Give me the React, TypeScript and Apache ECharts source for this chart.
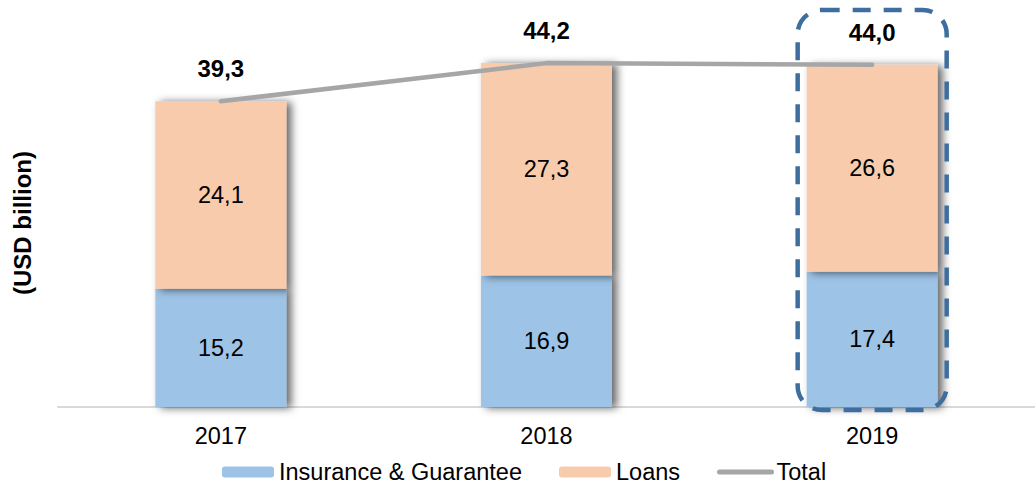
import React, { useEffect, useRef } from "react";
import * as echarts from "echarts";

const categories = ["2017", "2018", "2019"];
const insurance = [15.2, 16.9, 17.4];
const loans = [24.1, 27.3, 26.6];
const totals = [39.3, 44.2, 44.0];
const highlightCategory = "2019";

const fmt = (v: number) => v.toFixed(1).replace(".", ",");
const FONT = "'Liberation Sans', Arial, sans-serif";

export default function App() {
  const ref = useRef<HTMLDivElement>(null);
  useEffect(() => {
    document.body.style.margin = "0";
    if (!ref.current) return;
    const chart = echarts.init(ref.current, undefined, { renderer: "svg" });
    const shadow = {
      shadowColor: "rgba(0,0,0,0.6)",
      shadowBlur: 8,
      shadowOffsetX: 5,
      shadowOffsetY: 1,
    };
    const barLabel = {
      show: true,
      position: "inside",
      color: "#000",
      fontSize: 23.5,
      fontFamily: FONT,
      formatter: (p: any) => fmt(p.value),
    };
    chart.setOption({
      animation: false,
      textStyle: { fontFamily: FONT },
      grid: { left: 58, top: 18, width: 987, height: 389 },
      xAxis: {
        type: "category",
        data: categories,
        axisLine: { show: true, lineStyle: { color: "#d9d9d9", width: 2 } },
        axisTick: { show: false },
        axisLabel: { color: "#000", fontSize: 23.5, margin: 17, fontFamily: FONT },
      },
      yAxis: {
        type: "value",
        min: 0,
        max: 50,
        show: false,
        splitLine: { show: false },
      },
      legend: {
        left: 217,
        top: 455,
        itemWidth: 52,
        itemHeight: 11,
        itemGap: 37,
        textStyle: { color: "#000", fontSize: 23.5, fontFamily: FONT },
        data: [
          { name: "Insurance & Guarantee" },
          { name: "Loans" },
          {
            name: "Total",
            itemStyle: { opacity: 0 },
            lineStyle: { width: 5, cap: "round", color: "#a6a6a6" },
          },
        ],
      },
      series: [
        {
          name: "Insurance & Guarantee",
          type: "bar",
          stack: "a",
          barWidth: 131,
          data: insurance,
          itemStyle: { color: "#9dc3e6", ...shadow },
          label: barLabel,
        },
        {
          name: "Loans",
          type: "bar",
          stack: "a",
          barWidth: 131,
          data: loans,
          itemStyle: { color: "#f8cbad", ...shadow },
          label: barLabel,
        },
        {
          name: "Total",
          type: "line",
          data: totals,
          symbol: "circle",
          symbolSize: 1,
          showSymbol: true,
          lineStyle: { color: "#a6a6a6", width: 4.5, cap: "round" },
          itemStyle: { color: "#a6a6a6" },
          label: {
            show: true,
            position: "top",
            distance: 20,
            color: "#000",
            fontWeight: "bold",
            fontSize: 24,
            fontFamily: FONT,
            formatter: (p: any) => fmt(p.value),
          },
          z: 5,
        },
      ],
    });
    const [cx, by] = chart.convertToPixel({ gridIndex: 0 }, [highlightCategory, 0]) as number[];
    const boxW = 149;
    chart.setOption({
      graphic: [
        {
          type: "rect",
          z: 100,
          shape: { x: cx - boxW / 2, y: 10, width: boxW, height: by + 3 - 10, r: 24 },
          style: {
            fill: "none",
            stroke: "#3e6e9e",
            lineWidth: 4.5,
            lineDash: [18, 13],
          },
        },
        {
          type: "text",
          x: 22,
          y: 223,
          rotation: Math.PI / 2,
          style: {
            text: "(USD billion)",
            fill: "#000",
            font: `bold 24px ${FONT}`,
            align: "center",
            verticalAlign: "middle",
          },
        },
      ],
    });
    return () => chart.dispose();
  }, []);
  return <div ref={ref} style={{ width: 1035, height: 487 }} />;
}
